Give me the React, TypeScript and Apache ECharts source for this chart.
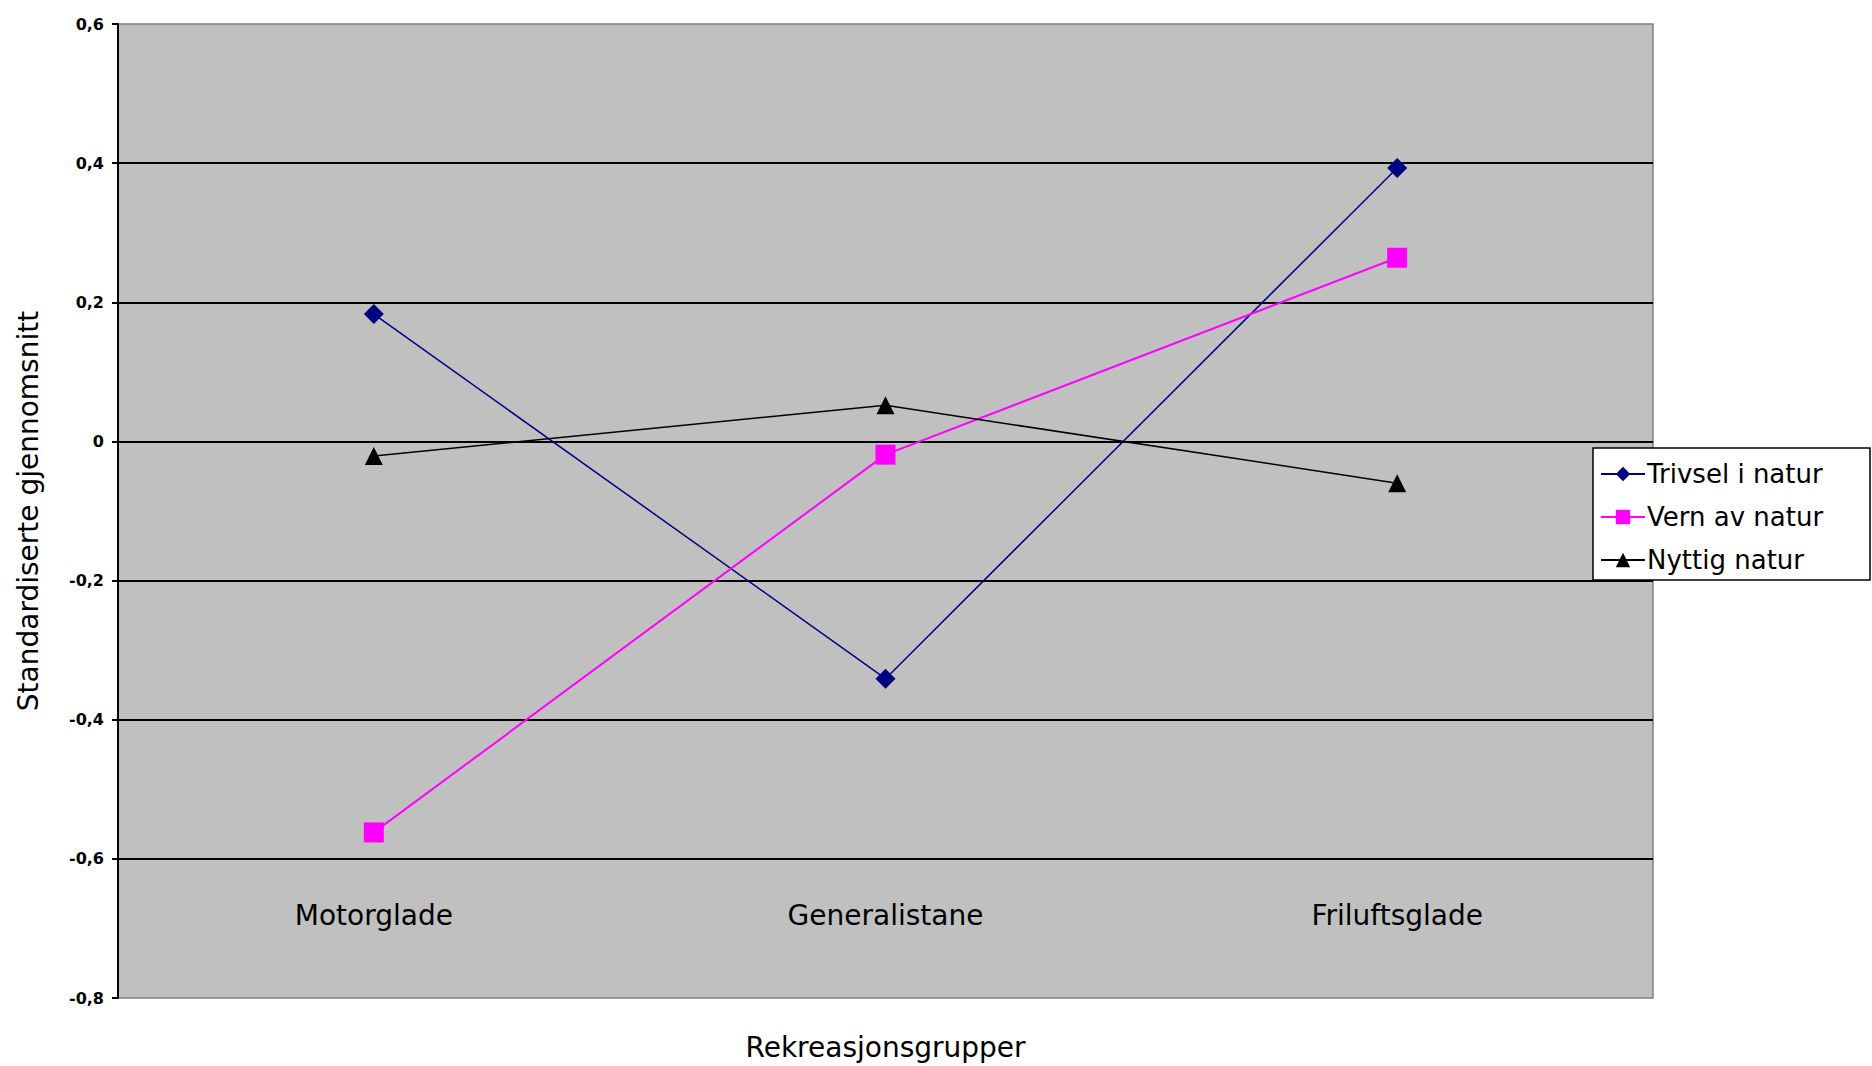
import React, { useEffect, useRef } from "react";
import * as echarts from "echarts";

const categories = ["Motorglade", "Generalistane", "Friluftsglade"];
const trivsel = [0.183, -0.341, 0.393];
const vern = [-0.562, -0.019, 0.264];
const nyttig = [-0.021, 0.052, -0.06];
const seriesNames = ["Trivsel i natur", "Vern av natur", "Nyttig natur"];

export default function App() {
  const ref = useRef<HTMLDivElement>(null);
  useEffect(() => {
    document.body.style.margin = "0";
    const chart = echarts.init(ref.current!, null, { renderer: "svg" });
    const font = "DejaVu Sans";
    chart.setOption({
      animation: false,
      backgroundColor: "#ffffff",
      textStyle: { fontFamily: font },
      grid: {
        left: 118,
        top: 24,
        width: 1535,
        height: 975,
        show: true,
        backgroundColor: "#C0C0C0",
        borderColor: "#808080",
        borderWidth: 1.5,
      },
      graphic: [
        {
          type: "rect",
          z: 5,
          shape: { x: 1593, y: 448, width: 277, height: 132 },
          style: { fill: "#ffffff", stroke: "#000000", lineWidth: 1.5 },
        },
      ],
      legend: {
        z: 10,
        orient: "vertical",
        left: 1596,
        top: 448,
        padding: [13, 4, 11, 4],
        itemGap: 17,
        itemWidth: 44,
        itemHeight: 18,
        textStyle: { fontFamily: font, fontSize: 26, color: "#000", padding: [0, 0, 0, -3] },
        data: seriesNames,
      },
      xAxis: {
        type: "category",
        data: categories,
        boundaryGap: true,
        axisLine: { show: false },
        axisTick: { show: false },
        splitLine: { show: false },
        axisLabel: { margin: -97, fontSize: 28, color: "#000", fontFamily: font },
        name: "Rekreasjonsgrupper",
        nameLocation: "middle",
        nameGap: 35,
        nameTextStyle: { fontSize: 28, color: "#000", fontFamily: font },
      },
      yAxis: {
        type: "value",
        min: -0.8,
        max: 0.6,
        interval: 0.2,
        axisLine: { show: true, lineStyle: { color: "#000", width: 2 } },
        axisTick: { show: true, length: 6, lineStyle: { color: "#000", width: 2 } },
        splitLine: {
          show: true,
          showMinLine: false,
          showMaxLine: false,
          lineStyle: { color: "#000", width: 2 },
        },
        axisLabel: {
          margin: 14,
          fontSize: 16,
          fontWeight: "bold",
          color: "#000",
          fontFamily: font,
          formatter: (v: number) => {
            const r = Math.round(v * 10) / 10;
            return r === 0 ? "0" : String(r).replace(".", ",");
          },
        },
        name: "Standardiserte gjennomsnitt",
        nameLocation: "middle",
        nameGap: 76,
        nameTextStyle: { fontSize: 28, color: "#000", fontFamily: font },
      },
      series: [
        {
          name: seriesNames[0],
          type: "line",
          data: trivsel,
          symbol: "diamond",
          symbolSize: 20,
          itemStyle: { color: "#000080" },
          lineStyle: { color: "#000080", width: 1.5 },
        },
        {
          name: seriesNames[1],
          type: "line",
          data: vern,
          symbol: "rect",
          symbolSize: 20,
          itemStyle: { color: "#FF00FF" },
          lineStyle: { color: "#FF00FF", width: 2 },
        },
        {
          name: seriesNames[2],
          type: "line",
          data: nyttig,
          symbol: "triangle",
          symbolSize: 18,
          itemStyle: { color: "#000000" },
          lineStyle: { color: "#000000", width: 1.5 },
        },
      ],
    });
    return () => chart.dispose();
  }, []);
  return <div ref={ref} style={{ width: 1872, height: 1066 }} />;
}
